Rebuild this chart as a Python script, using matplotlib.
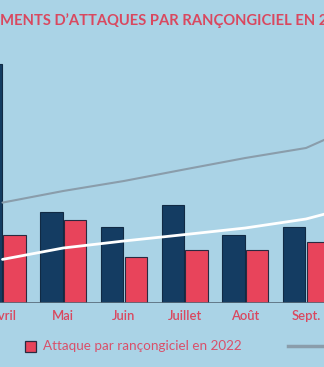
import matplotlib
matplotlib.use("Agg")
from matplotlib import pyplot as plt
from matplotlib.patches import Rectangle
import numpy as np

# Monthly ransomware attack counts (bars) and the two trend lines
months = ["Avril", "Mai", "Juin", "Juillet", "Août", "Sept."]
attacks_2021 = [59.75, 22.75, 19, 24.5, 17, 19]
attacks_2022 = [17, 20.75, 11.5, 13.25, 13.25, 15.25]
# the trend lines carry on into October
trend_grey = [25.1, 28, 30.5, 33.4, 36.25, 38.75, 45.5]
trend_white = [10.9, 13.75, 15.5, 17.1, 18.75, 21, 25]

bg = "#aad3e6"
navy = "#143c62"
red = "#e8445b"
pink = "#d9485f"
grey = "#8a9dab"

W, H = 324, 367
fig = plt.figure(figsize=(W / 100, H / 100), dpi=100, facecolor=bg)

# bar axes: baseline sits 303 px from the top, one month every ~60.7 px
base = 303
step = 60.7
ax = fig.add_axes([0, (H - base) / H, 1, base / H])
ax.patch.set_visible(False)
ax.set_xlim(-2.5 / step, (W - 2.5) / step)
ax.set_ylim(0, base / 4)

x = np.arange(len(months))
w = 0.37
ax.bar(x - 0.195, attacks_2021, w, color=navy, edgecolor="#112a44", linewidth=0.8, zorder=2)
ax.bar(x + 0.195, attacks_2022, w, color=red, edgecolor="#2a2a40", linewidth=0.8, zorder=2)

xl = np.arange(len(trend_grey))
ax.plot(xl, trend_grey, color=grey, lw=1.5, zorder=3, solid_capstyle="round")
ax.plot(xl, trend_white, color="white", lw=2.0, zorder=3, solid_capstyle="round")
ax.axhline(0, color="#566a79", lw=1.2, zorder=4)

for s in ax.spines.values():
    s.set_visible(False)
ax.set_yticks([])
ax.set_xticks(x, months)
ax.tick_params(axis="x", length=0, pad=5, labelcolor=pink)
for lab in ax.get_xticklabels():
    lab.set_fontfamily("Lato")
    lab.set_fontweight("semibold")
    lab.set_fontsize(9.4)

# title, sized so the visible stretch fills the width
fig.canvas.draw()
r = fig.canvas.get_renderer()
probe = fig.text(0, 0, "MENTS D’ATTAQUES PAR RANÇONGICIEL EN 2", fontsize=10,
                 family="Lato", weight="bold")
fs = 10 * 328 / probe.get_window_extent(r).width
probe.set_text("ÉVÉNE")
probe.set_fontsize(fs)
shift = probe.get_window_extent(r).width
probe.remove()
fig.text(-shift / W, 1 - 19 / H, "ÉVÉNEMENTS D’ATTAQUES PAR RANÇONGICIEL EN 2022",
         fontsize=fs, family="Lato", weight="bold", color=pink, va="center", ha="left")

# legend drawn in pixel space
ov = fig.add_axes([0, 0, 1, 1])
ov.set_xlim(0, W)
ov.set_ylim(H, 0)
ov.axis("off")
ov.add_patch(Rectangle((25, 341), 11, 11, facecolor=red, edgecolor="#2a2a40", lw=0.9))
ov.text(43, 346.5, "Attaque par rançongiciel en 2022", va="center", ha="left",
        fontsize=9.7, family="Lato", color="#d9506a")
ov.plot([288, 340], [346, 346], color=grey, lw=2.5, clip_on=False)

fig.savefig("out.png", dpi=100, facecolor=bg)
